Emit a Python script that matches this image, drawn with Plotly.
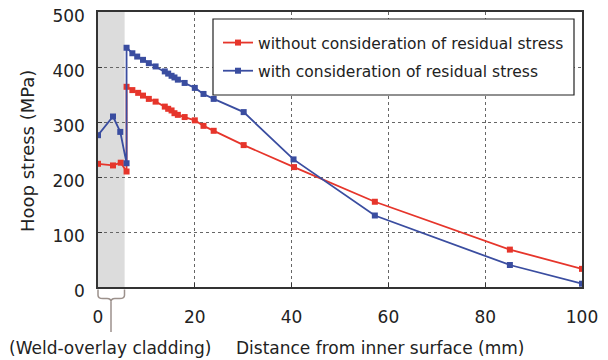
import plotly.graph_objects as go

# Distance from inner surface (mm) and hoop stress (MPa)
x_without = [0.0, 3.1, 4.7, 5.9, 5.9, 7.1, 8.3, 9.3, 10.5, 11.9, 13.8, 14.5, 15.2, 15.8, 16.5,
             17.9, 20.0, 21.8, 23.9, 30.1, 40.5, 57.2, 85.1, 100.0]
y_without = [224, 221, 226, 210, 364, 358, 353, 348, 342, 337, 328, 324, 321, 316, 313,
             309, 303, 293, 284, 258, 218, 155, 68, 33]

x_with = [0.0, 3.1, 4.6, 5.9, 5.9, 7.1, 8.1, 9.3, 10.5, 11.9, 13.8, 14.5, 15.2, 15.8, 16.5,
          17.9, 20.0, 21.8, 23.9, 30.1, 40.4, 57.2, 85.1, 100.0]
y_with = [276, 310, 282, 225, 435, 425, 419, 413, 407, 401, 392, 388, 384, 381, 377,
          371, 362, 351, 342, 318, 232, 130, 40, 6]

series_names = ["without consideration of residual stress",
                "with consideration of residual stress"]
x_ticks = [0, 20, 40, 60, 80, 100]
y_ticks = [0, 100, 200, 300, 400, 500]
cladding_end = 5.5

RED = "#e6352b"
BLUE = "#3a4da0"
FONT = "DejaVu Sans, Verdana, sans-serif"
TXT = "#222"

# plot area in the browser viewport: x 98..582, y 12..287 (page body has an 8px margin)
def px(xv):
    return (xv - 98) / 484

def py(yv):
    return (287 - yv) / 275

fig = go.Figure()
fig.add_trace(go.Scatter(x=x_without, y=y_without, mode="lines+markers", name=series_names[0],
                         line=dict(color=RED, width=1.8),
                         marker=dict(symbol="square", size=6, color=RED), legendgroup="a"))
fig.add_trace(go.Scatter(x=x_with, y=y_with, mode="lines+markers", name=series_names[1],
                         line=dict(color=BLUE, width=1.8),
                         marker=dict(symbol="square", size=6, color=BLUE), legendgroup="b"))

# cladding region
fig.add_shape(type="rect", xref="x", yref="y", x0=0, x1=cladding_end, y0=0, y1=500,
              fillcolor="#dcdcdc", line_width=0, layer="below")

# legend box
fig.add_shape(type="rect", xref="paper", yref="paper",
              x0=px(213), x1=px(574), y0=py(95), y1=py(19),
              fillcolor="white", line=dict(color="#222", width=1.2), layer="above")

# brace under cladding
bc = "#9c918c"
l, r, m = px(98), px(124.5), px(111)
yt, yh = py(289.5), py(298.5)
path = (f"M {l},{yt} L {l},{yh+0.012} Q {l},{yh} {l+0.01},{yh} L {m-0.008},{yh} "
        f"Q {m},{yh} {m},{yh-0.012} Q {m},{yh} {m+0.008},{yh} L {r-0.01},{yh} "
        f"Q {r},{yh} {r},{yh+0.012} L {r},{yt}")
fig.add_shape(type="path", xref="paper", yref="paper", path=path,
              line=dict(color=bc, width=1.5))
fig.add_shape(type="line", xref="paper", yref="paper", x0=m, x1=m,
              y0=yh - 0.012, y1=py(332), line=dict(color=bc, width=1.5))

fig.add_annotation(text="(Weld-overlay cladding)", xref="paper", yref="paper",
                   x=px(110), y=py(348), showarrow=False,
                   font=dict(size=17, color=TXT, family=FONT), xanchor="center", yanchor="middle")
fig.add_annotation(text="Distance from inner surface (mm)", xref="paper", yref="paper",
                   x=px(380), y=py(348), showarrow=False,
                   font=dict(size=17, color=TXT, family=FONT), xanchor="center", yanchor="middle")
fig.add_annotation(text="Hoop stress (MPa)", xref="paper", yref="paper",
                   x=px(28), y=py(151), showarrow=False, textangle=-90,
                   font=dict(size=18, color=TXT, family=FONT), xanchor="center", yanchor="middle")

axis_common = dict(showline=True, mirror=True, linecolor="#333", linewidth=1.5,
                   showgrid=True, gridcolor="#666", griddash="dot", gridwidth=1,
                   zeroline=False, ticks="inside", ticklen=4, tickcolor="#333",
                   automargin=False, ticklabeloverflow="allow",
                   tickfont=dict(size=17, color=TXT, family=FONT))
fig.update_xaxes(range=[0, 100], tickvals=x_ticks, ticklabelstandoff=14, **axis_common)
fig.update_yaxes(range=[0, 500], tickvals=y_ticks, ticklabelstandoff=8, ticklabelshift=4,
                 **axis_common)

fig.update_layout(
    width=600, height=352,
    margin=dict(l=90, r=26, t=4, b=73, autoexpand=False),
    paper_bgcolor="white", plot_bgcolor="white",
    font=dict(family=FONT, color=TXT),
    showlegend=True,
    legend=dict(x=px(218), y=py(26), xanchor="left", yanchor="top",
                bgcolor="rgba(0,0,0,0)", borderwidth=0, tracegroupgap=5,
                font=dict(size=15.5, color=TXT, family=FONT), itemwidth=30),
)

fig.write_html("out.html")
